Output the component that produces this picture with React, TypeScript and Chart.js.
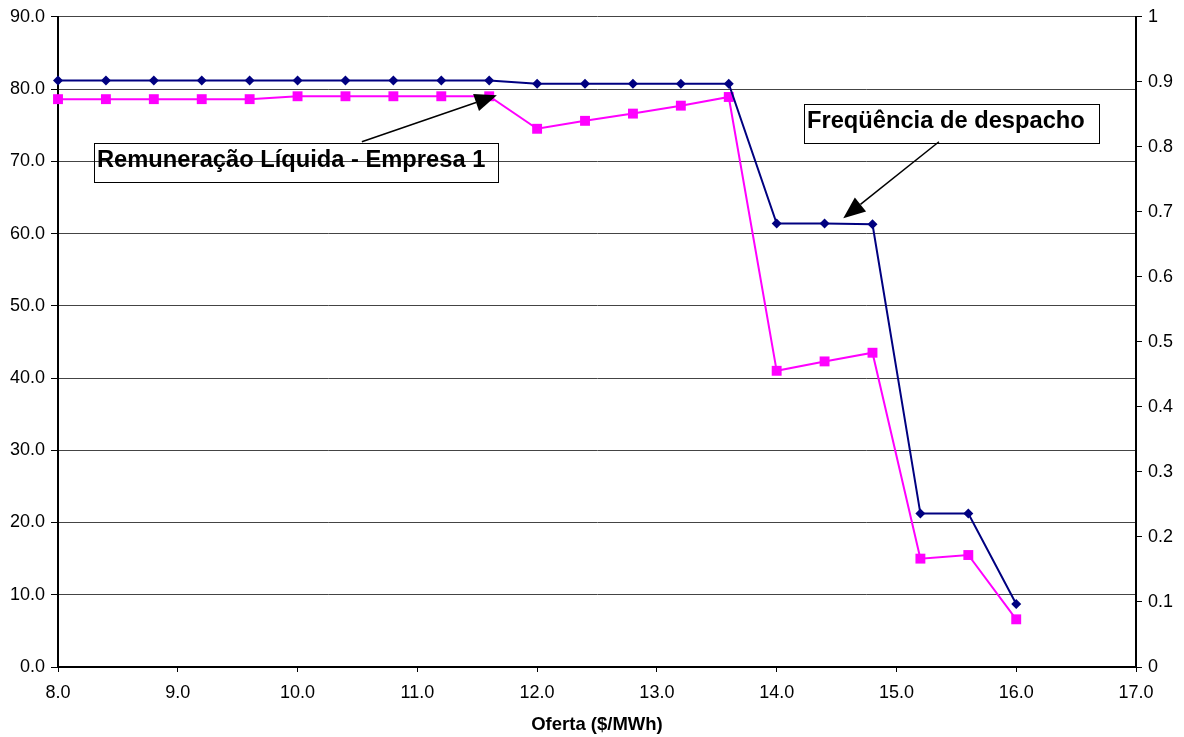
import React, { useEffect, useRef } from 'react';
import { Chart, registerables } from 'chart.js';

Chart.register(...registerables);

// ---- Data ----
const offerPrices = [8.0, 8.4, 8.8, 9.2, 9.6, 10.0, 10.4, 10.8, 11.2, 11.6, 12.0, 12.4, 12.8, 13.2, 13.6, 14.0, 14.4, 14.8, 15.2, 15.6, 16.0];
const dispatchFrequency = [0.902, 0.902, 0.902, 0.902, 0.902, 0.902, 0.902, 0.902, 0.902, 0.902, 0.897, 0.897, 0.897, 0.897, 0.897, 0.682, 0.682, 0.681, 0.236, 0.236, 0.097];
const netRevenue = [78.6, 78.6, 78.6, 78.6, 78.6, 79.0, 79.0, 79.0, 79.0, 79.0, 74.5, 75.6, 76.6, 77.7, 78.9, 41.0, 42.3, 43.5, 15.0, 15.5, 6.6];

const seriesNames = ['Freqüência de despacho', 'Remuneração Líquida - Empresa 1'];
const xAxisTitle = 'Oferta ($/MWh)';

// Annotation callouts (data coordinates: x = offer, y = left axis)
const calloutBoxes = [
  { text: 'Remuneração Líquida - Empresa 1', x0: 8.30, x1: 11.67, yTop: 72.6, yBottom: 67.2 },
  { text: 'Freqüência de despacho', x0: 14.23, x1: 16.69, yTop: 77.9, yBottom: 72.57 },
];
const calloutArrows = [
  { fromX: 10.537, fromY: 72.7, toX: 11.664, toY: 79.14 },
  { fromX: 15.355, fromY: 72.7, toX: 14.556, toY: 62.13 },
];

const FONT = '"Liberation Sans", Arial, Helvetica, sans-serif';

const calloutPlugin = {
  id: 'callouts',
  afterDatasetsDraw(chart: any) {
    const { ctx } = chart;
    const xs = chart.scales.x;
    const ys = chart.scales.y;
    ctx.save();
    ctx.strokeStyle = '#000';
    ctx.fillStyle = '#000';
    for (const b of calloutBoxes) {
      const l = Math.round(xs.getPixelForValue(b.x0)) + 0.5;
      const r = Math.round(xs.getPixelForValue(b.x1)) + 0.5;
      const t = Math.round(ys.getPixelForValue(b.yTop)) + 0.5;
      const bt = Math.round(ys.getPixelForValue(b.yBottom)) + 0.5;
      ctx.lineWidth = 1;
      ctx.strokeRect(l, t, r - l, bt - t);
      ctx.font = `bold 23.7px ${FONT}`;
      ctx.textBaseline = 'alphabetic';
      ctx.textAlign = 'left';
      ctx.fillText(b.text, l + 2.5, t + 23.5);
    }
    for (const a of calloutArrows) {
      const sx = xs.getPixelForValue(a.fromX);
      const sy = ys.getPixelForValue(a.fromY);
      const tx = xs.getPixelForValue(a.toX);
      const ty = ys.getPixelForValue(a.toY);
      const dx = tx - sx;
      const dy = ty - sy;
      const len = Math.hypot(dx, dy);
      const ux = dx / len;
      const uy = dy / len;
      const headLen = 22;
      const headHalf = 9;
      const bx = tx - ux * headLen;
      const by = ty - uy * headLen;
      ctx.lineWidth = 1.5;
      ctx.beginPath();
      ctx.moveTo(sx, sy);
      ctx.lineTo(bx, by);
      ctx.stroke();
      ctx.beginPath();
      ctx.moveTo(tx, ty);
      ctx.lineTo(bx - uy * headHalf, by + ux * headHalf);
      ctx.lineTo(bx + uy * headHalf, by - ux * headHalf);
      ctx.closePath();
      ctx.fill();
    }
    ctx.restore();
  },
};

export default function App() {
  const canvasRef = useRef<HTMLCanvasElement | null>(null);

  useEffect(() => {
    if (!canvasRef.current) return;
    Chart.defaults.font.family = FONT;
    Chart.defaults.color = '#000';

    const freqPoints = offerPrices.map((x, i) => ({ x, y: dispatchFrequency[i] }));
    const revPoints = offerPrices.map((x, i) => ({ x, y: netRevenue[i] }));

    const chart = new Chart(canvasRef.current, {
      type: 'line',
      data: {
        datasets: [
          {
            label: seriesNames[0],
            data: freqPoints,
            yAxisID: 'y1',
            borderColor: '#000080',
            backgroundColor: '#000080',
            borderWidth: 2,
            pointStyle: 'rectRot',
            pointRadius: 5,
            pointBorderWidth: 0,
            tension: 0,
            clip: false,
          },
          {
            label: seriesNames[1],
            data: revPoints,
            yAxisID: 'y',
            borderColor: '#FF00FF',
            backgroundColor: '#FF00FF',
            borderWidth: 2,
            pointStyle: 'rect',
            pointRadius: 7,
            pointBorderWidth: 0,
            tension: 0,
            clip: false,
          },
        ],
      },
      options: {
        animation: false,
        responsive: false,
        maintainAspectRatio: false,
        layout: { padding: { top: 15, left: 0, right: 0, bottom: 0 } },
        plugins: {
          legend: { display: false },
          tooltip: { enabled: false },
        },
        scales: {
          x: {
            type: 'linear',
            min: 8,
            max: 17,
            ticks: {
              stepSize: 1,
              padding: 10,
              font: { size: 18 },
              color: '#000',
              callback: (v: any) => Number(v).toFixed(1),
            },
            grid: { drawOnChartArea: false, tickLength: 5, color: '#000', tickColor: '#000' },
            border: { color: '#000', width: 2 },
            title: {
              display: true,
              text: xAxisTitle,
              font: { size: 18.5, weight: 'bold' },
              color: '#000',
              padding: { top: 4, bottom: 1 },
            },
            afterFit: (s: any) => { s.height = 70; },
          },
          y: {
            type: 'linear',
            position: 'left',
            min: 0,
            max: 90,
            ticks: {
              stepSize: 10,
              padding: 6,
              font: { size: 18 },
              color: '#000',
              callback: (v: any) => Number(v).toFixed(1),
            },
            grid: { color: '#444', lineWidth: 1, tickLength: 7, tickColor: '#000' },
            border: { color: '#000', width: 2 },
            afterFit: (s: any) => { s.width = 58; },
          },
          y1: {
            type: 'linear',
            position: 'right',
            min: 0,
            max: 1,
            ticks: {
              stepSize: 0.1,
              padding: 6,
              font: { size: 18 },
              color: '#000',
              callback: (v: any) => String(Number(Number(v).toFixed(1))),
            },
            grid: { drawOnChartArea: false, tickLength: 6, color: '#000', tickColor: '#000' },
            border: { color: '#000', width: 2 },
            afterFit: (s: any) => { s.width = 48; },
          },
        },
      },
      plugins: [calloutPlugin],
    });

    return () => chart.destroy();
  }, []);

  return (
    <div style={{ position: 'fixed', left: 0, top: 0, width: 1184, height: 737, background: '#fff' }}>
      <canvas ref={canvasRef} width={1184} height={737} style={{ display: 'block' }} />
    </div>
  );
}
